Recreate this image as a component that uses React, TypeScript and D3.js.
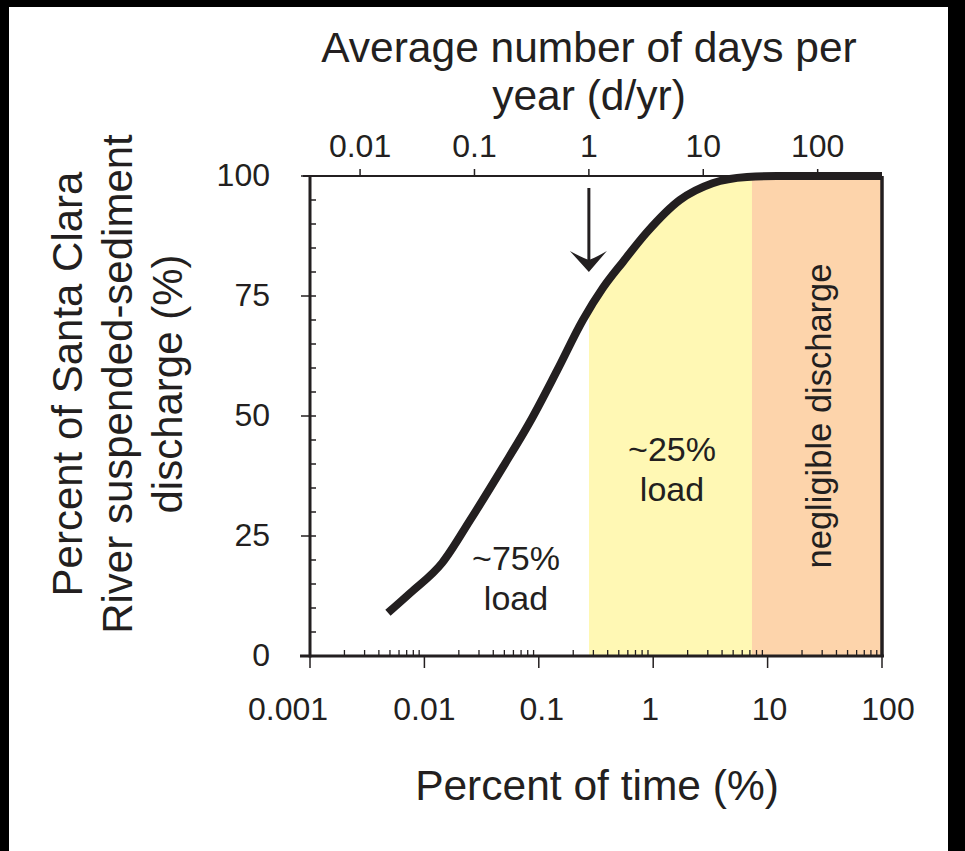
import * as d3 from "d3";

// cumulative load curve (percent of time -> percent of load)
const timePercent = [0.0048, 0.0075, 0.0143, 0.0251, 0.0487, 0.0838, 0.144, 0.243, 0.364, 0.544, 0.883, 1.71, 3.3, 6.6, 12, 100];
const loadPercent = [9.0, 13.1, 19.4, 28.3, 39.4, 48.8, 59.4, 70.0, 76.7, 82.1, 88.3, 95, 98.5, 99.8, 100, 100];

const bottomTicks = [0.001, 0.01, 0.1, 1, 10, 100];
const bottomLabels = ["0.001", "0.01", "0.1", "1", "10", "100"];
const bottomLabelShift = [-22, 0, 3, -3, 2, 6];
const topTicksDays = [0.01, 0.1, 1, 10, 100];
const topLabels = ["0.01", "0.1", "1", "10", "100"];
const yTicks = [0, 25, 50, 75, 100];
const yMinor = [5, 10, 15, 20, 30, 35, 40, 45, 55, 60, 65, 70, 80, 85, 90, 95];

const DAYS_PER_PERCENT = 3.65;
const yellowFrom = 0.274; // 1 day per year
const orangeFrom = 7.3;
const arrowDay = 1;
const arrowFrom = 97.5;
const arrowTo = 80;

const FONT = "'Liberation Sans', Arial, Helvetica, sans-serif";
const INK = "#231f20";

export default function App() {
  const x = d3.scaleLog().domain([0.001, 100]).range([310, 882]);
  const y = d3.scaleLinear().domain([0, 100]).range([656, 176]);

  const pts: [number, number][] = timePercent.map((t, i) => [t, loadPercent[i]]);
  const line = d3
    .line<[number, number]>()
    .x((d) => x(d[0]))
    .y((d) => y(d[1]))
    .curve(d3.curveMonotoneX);
  const area = d3
    .area<[number, number]>()
    .x((d) => x(d[0]))
    .y0(y(0))
    .y1((d) => y(d[1]))
    .curve(d3.curveMonotoneX);

  const minorX: number[] = [];
  bottomTicks.slice(0, -1).forEach((d) => {
    for (let k = 2; k <= 9; k++) minorX.push(d * k);
  });

  const ax = x(arrowDay / DAYS_PER_PERCENT);
  const tipY = y(arrowTo);

  return (
    <div style={{ position: "absolute", left: 0, top: 0 }}>
      <svg width={965} height={851} style={{ display: "block", background: "#fff" }} fontFamily={FONT}>
        <defs>
          <clipPath id="yellowClip">
            <rect x={x(yellowFrom)} y={y(100)} width={x(orangeFrom) - x(yellowFrom)} height={y(0) - y(100)} />
          </clipPath>
        </defs>

        {/* frame strips of the scanned figure */}
        <rect x={0} y={0} width={965} height={7} fill="#000" />
        <rect x={0} y={0} width={9} height={851} fill="#000" />
        <rect x={948} y={0} width={17} height={851} fill="#000" />

        {/* shaded bands */}
        <path d={area(pts) || ""} fill="#fff8b4" clipPath="url(#yellowClip)" />
        <rect x={x(orangeFrom)} y={y(100)} width={x(100) - x(orangeFrom)} height={y(0) - y(100)} fill="#fdd4ab" />

        {/* axes */}
        <line x1={303} x2={882} y1={y(100)} y2={y(100)} stroke={INK} strokeWidth={2} />
        <line x1={x(100)} x2={x(100)} y1={y(100)} y2={y(0)} stroke={INK} strokeWidth={3.5} />
        <line x1={x(0.001)} x2={x(0.001)} y1={y(100)} y2={y(0) + 1.5} stroke={INK} strokeWidth={3} />
        <line x1={300} x2={884} y1={y(0)} y2={y(0)} stroke={INK} strokeWidth={3} />

        {yTicks.map((v) => (
          <g key={"yt" + v}>
            <line x1={301} x2={316} y1={y(v)} y2={y(v)} stroke={INK} strokeWidth={1.5} />
            <text x={270} y={y(v) + 9.5} textAnchor="end" fontSize={32} fill={INK}>
              {v}
            </text>
          </g>
        ))}
        {yMinor.map((v) => (
          <line key={"ym" + v} x1={310} x2={316} y1={y(v)} y2={y(v)} stroke={INK} strokeWidth={1.5} />
        ))}

        {bottomTicks.map((v, i) => (
          <g key={"bt" + v}>
            <line x1={x(v)} x2={x(v)} y1={y(0)} y2={y(0) + 12} stroke={INK} strokeWidth={1.5} />
            <text x={x(v) + bottomLabelShift[i]} y={720} textAnchor="middle" fontSize={32} fill={INK}>
              {bottomLabels[i]}
            </text>
          </g>
        ))}
        {minorX.map((v) => (
          <line key={"bm" + v} x1={x(v)} x2={x(v)} y1={y(0)} y2={y(0) - 6} stroke={INK} strokeWidth={1.3} />
        ))}

        {topTicksDays.map((v, i) => {
          const px = x(v / DAYS_PER_PERCENT);
          return (
            <g key={"tt" + v}>
              <line x1={px} x2={px} y1={y(100)} y2={y(100) - 7} stroke={INK} strokeWidth={1.5} />
              <text x={px} y={157} textAnchor="middle" fontSize={32} fill={INK}>
                {topLabels[i]}
              </text>
            </g>
          );
        })}

        {/* load curve */}
        <path d={line(pts) || ""} fill="none" stroke={INK} strokeWidth={8} strokeLinecap="butt" />

        {/* arrow at 1 day per year */}
        <line x1={ax} x2={ax} y1={y(arrowFrom)} y2={tipY - 8} stroke={INK} strokeWidth={3} />
        <path
          d={`M${ax},${tipY} L${ax - 19},${tipY - 21} Q${ax - 6},${tipY - 14} ${ax},${tipY - 12} Q${ax + 6},${tipY - 14} ${ax + 18},${tipY - 21} Z`}
          fill={INK}
        />

        {/* annotations */}
        <text textAnchor="middle" fontSize={34} fill={INK}>
          <tspan x={516} y={570}>~75%</tspan>
          <tspan x={516} y={610}>load</tspan>
        </text>
        <text textAnchor="middle" fontSize={34} fill={INK}>
          <tspan x={672} y={461}>~25%</tspan>
          <tspan x={672} y={501}>load</tspan>
        </text>
        <text transform={`translate(831,416) rotate(-90)`} textAnchor="middle" fontSize={34.5} fill={INK}>
          negligible discharge
        </text>

        {/* titles */}
        <text textAnchor="middle" fontSize={42.5} fill={INK}>
          <tspan x={589} y={62}>Average number of days per</tspan>
          <tspan x={589} y={110}>year (d/yr)</tspan>
        </text>
        <text x={597} y={800} textAnchor="middle" fontSize={42.5} fill={INK}>
          Percent of time (%)
        </text>
        <text transform="translate(0,384) rotate(-90)" textAnchor="middle" fontSize={42} fill={INK}>
          <tspan x={0} y={82}>Percent of Santa Clara</tspan>
          <tspan x={0} y={132}>River suspended-sediment</tspan>
          <tspan x={0} y={182}>discharge (%)</tspan>
        </text>
      </svg>
    </div>
  );
}
